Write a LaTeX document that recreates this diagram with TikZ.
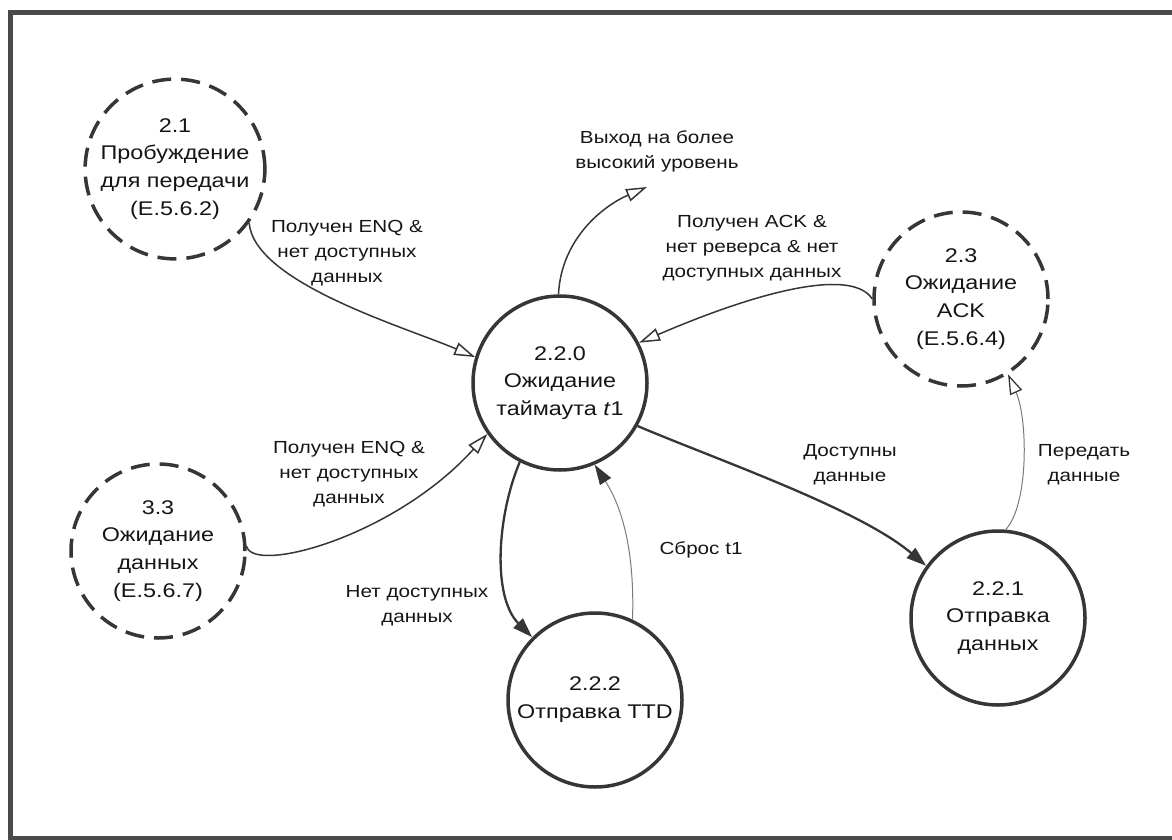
\documentclass[tikz,border=0pt]{standalone}
\usepackage{fontspec}
\setmainfont[FakeStretch=1.18]{Liberation Sans}
\usetikzlibrary{arrows.meta}
\definecolor{stroke}{HTML}{363636}
\definecolor{txt}{HTML}{151515}
\definecolor{thin}{HTML}{7A7A7A}
\definecolor{framec}{HTML}{4A4A4A}
\begin{document}
\begin{tikzpicture}[x=1pt,y=-1pt,
  state/.style={circle, draw=stroke, line width=3.5pt, minimum size=174pt, inner sep=0pt,
    align=center, text=txt, font=\fontsize{19.8}{27.8}\selectfont},
  extstate/.style={state, dash pattern=on 19pt off 10pt},
  lbl/.style={align=center, text=txt, inner sep=0pt, font=\fontsize{17.5}{25}\selectfont},
  openflow/.style={draw=stroke, line width=1.5pt, -{Triangle[open, length=21pt, width=13pt]}},
  boldflow/.style={draw=stroke, line width=2.3pt, -{Triangle[length=20pt, width=13pt]}},
  thinflow/.style={draw=thin, line width=1pt, -{Triangle[length=20pt, width=13pt, color=stroke]}},
  thinopen/.style={draw=thin, line width=1pt, -{Triangle[open, length=20pt, width=13pt, color=stroke, line width=1.3pt]}},
  framebox/.style={draw=framec, line width=4.5pt}]
\useasboundingbox (0,0) rectangle (1172,840);
\begin{scope}
\clip (0,0) rectangle (1172,840);
\draw[framebox] (10.5,12.5) rectangle (1195,838.5);
\end{scope}

% states
\node[extstate] (n21) at (175,169) {2.1\\Пробуждение\\для передачи\\(E.5.6.2)};
\node[state] (n220) at (560,383) {2.2.0\\Ожидание\\таймаута \textit{t}1};
\node[extstate] (n23) at (961,299) {2.3\\Ожидание\\ACK\\(E.5.6.4)};
\node[extstate] (n33) at (158,551) {3.3\\Ожидание\\данных\\(E.5.6.7)};
\node[state] (n222) at (595,700) {2.2.2\\Отправка TTD};
\node[state] (n221) at (998,618) {2.2.1\\Отправка\\данных};
\coordinate (exit) at (647,187);

% labels
\node[lbl] (l1) at (347,253) {Получен ENQ \&\\нет доступных\\данных};
\node[lbl] (l2) at (657,151) {Выход на более\\высокий уровень};
\node[lbl] (l3) at (752,248) {Получен ACK \&\\нет реверса \& нет\\доступных данных};
\node[lbl] (l4) at (349,474) {Получен ENQ \&\\нет доступных\\данных};
\node[lbl] (l5) at (417,606) {Нет доступных\\данных};
\node[lbl] (l6) at (701,550) {Сброс t1};
\node[lbl] (l7) at (850,465) {Доступны\\данные};
\node[lbl] (l8) at (1084,465) {Передать\\данные};

% connectors
\draw[openflow] (n21.-36) .. controls +(5,60) and +(-70,-30) .. (n220.163);
\draw[openflow] (n220.91) .. controls +(3,-57) and +(-42,18) .. (exit);
\draw[openflow] (n23.180) .. controls +(-19,-30) and +(128,-55) .. (n220.27);
\draw[openflow] (n33.3) .. controls +(7,28) and +(-93,103) .. (n220.-145);
\draw[boldflow] (n220.-117) .. controls +(-23,55) and +(-40,-40) .. (n222.135);
\draw[thinflow] (n222.65) .. controls +(2,-58) and +(31,48) .. (n220.-67);
\draw[boldflow] (n220.-29) .. controls +(80,34) and +(-67,-57) .. (n221.144);
\draw[thinopen] (n221.85) .. controls +(23,-25) and +(20,45) .. (n23.-58);
\end{tikzpicture}
\end{document}
